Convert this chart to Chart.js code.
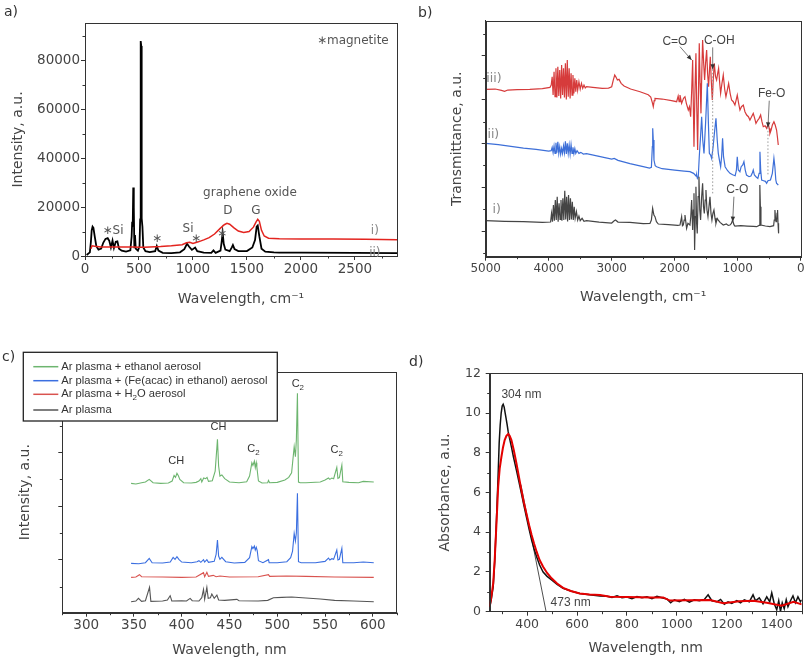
<!DOCTYPE html>
<html>
<head>
<meta charset="utf-8">
<script src="https://cdn.jsdelivr.net/npm/chart.js@4.4.1/dist/chart.umd.min.js"></script>
<style>
  body { margin: 0; background: #fff; }
  #fig { position: relative; width: 808px; height: 660px; overflow: hidden; background: #fff; }
  canvas { position: absolute; }
  .tag { position: absolute; font: 14px "DejaVu Sans", sans-serif; color: #333; line-height: 16px; }
</style>
</head>
<body>
<div id="fig">
  <canvas id="chartA" width="404" height="310" style="left:0;top:0"></canvas>
  <canvas id="chartB" width="404" height="310" style="left:404px;top:0"></canvas>
  <canvas id="chartC" width="404" height="350" style="left:0;top:310px"></canvas>
  <canvas id="chartD" width="404" height="350" style="left:404px;top:310px"></canvas>
  <div class="tag" style="left:4px;top:3px">a)</div>
  <div class="tag" style="left:418px;top:4px">b)</div>
  <div class="tag" style="left:2px;top:348px">c)</div>
  <div class="tag" style="left:409px;top:353px">d)</div>
</div>
<script>
'use strict'

// ---- a) Raman, [shift cm-1, intensity] ----
const ramanGO = [[55, 3000], [65, 4200], [90, 4000], [150, 3700], [300, 3700], [450, 3700], [500, 3600],
  [550, 3600], [700, 3900], [800, 4200], [900, 4600], [940, 5400], [970, 5600], [1000, 5100], [1050, 5800],
  [1100, 6600], [1150, 7500], [1200, 9000], [1250, 11200], [1290, 12800], [1315, 13400], [1340, 13000],
  [1380, 11500], [1420, 10200], [1470, 9600], [1520, 10000], [1560, 11800], [1585, 14000], [1600, 15000],
  [1615, 14200], [1635, 10500], [1660, 8200], [1700, 7300], [1800, 7100], [2000, 7000], [2300, 7000],
  [2600, 6900], [2890, 6700]];
const ramanGOFe = [[15, 400], [45, 1500], [55, 6000], [62, 10500], [70, 12000], [78, 11500], [90, 8000],
  [105, 4000], [125, 2600], [150, 3000], [170, 5500], [190, 7000], [210, 7300], [225, 6200], [240, 3500],
  [255, 6300], [268, 3300], [285, 5800], [300, 6000], [315, 3000], [340, 2200], [380, 1800], [420, 2300],
  [432, 8000], [437, 14000], [442, 12000], [447, 28000], [452, 20000], [457, 3500], [463, 8600], [470, 3000],
  [490, 2200], [505, 4000], [511, 15000], [516, 88000], [521, 86000], [525, 15400], [532, 12000], [540, 3500],
  [560, 2000], [600, 1600], [650, 2000], [665, 4100], [680, 2200], [720, 1300], [800, 1200], [880, 1500],
  [920, 2800], [945, 5000], [965, 3800], [990, 2500], [1020, 3500], [1040, 2000], [1100, 1400], [1170, 1300],
  [1190, 2300], [1210, 1300], [1255, 2200], [1265, 5500], [1275, 9500], [1285, 5000], [1300, 2600],
  [1340, 2000], [1360, 3500], [1370, 4500], [1385, 2800], [1420, 2000], [1500, 2000], [1550, 3500],
  [1575, 6500], [1590, 12000], [1600, 12500], [1615, 8000], [1635, 3000], [1670, 1800], [1750, 1500],
  [1800, 1400], [2000, 1400], [2500, 1300], [2890, 1200]];
const ramanXTicks = [0, 250, 500, 750, 1000, 1250, 1500, 1750, 2000, 2250, 2500, 2750];
const ramanXLabels = [0, 500, 1000, 1500, 2000, 2500];
const ramanYTicks = [0, 10000, 20000, 30000, 40000, 50000, 60000, 70000, 80000, 90000];
const ramanYLabels = [0, 20000, 40000, 60000, 80000];

// ---- b) FTIR, [wavenumber, transmittance a.u.] ----
const ftirIII = [[5000, 50.2], [4850, 50.3], [4750, 49.9], [4700, 49.6], [4650, 50], [4500, 50.1], [4300, 50.2],
  [4100, 50.4], [3980, 50.8], [3960, 51.5], [3945, 54], [3930, 48.5], [3915, 55.5], [3900, 48], [3885, 56.5],
  [3870, 47.8], [3855, 57], [3840, 48.2], [3825, 56], [3810, 47.5], [3795, 57.5], [3780, 48.5], [3765, 56.5],
  [3750, 47.8], [3735, 58], [3720, 47.2], [3705, 59], [3690, 48], [3675, 56.5], [3660, 47.5], [3645, 55],
  [3630, 48.5], [3615, 54.5], [3600, 49], [3585, 53.5], [3570, 49.5], [3555, 53], [3540, 50], [3520, 52.5],
  [3500, 50.3], [3480, 52], [3460, 50.5], [3440, 51.5], [3420, 50.6], [3400, 51], [3300, 50.8], [3150, 50.5],
  [3050, 50.6], [3000, 51], [2975, 53], [2952, 54.5], [2930, 53.8], [2910, 53], [2884, 53.2], [2850, 52],
  [2804, 51.2], [2700, 50.3], [2550, 49.5], [2420, 48.6], [2380, 47.9], [2355, 46.2], [2340, 45], [2325, 46.8],
  [2313, 47.5], [2200, 47.3], [2050, 46.8], [1969, 46.5], [1945, 48.2], [1930, 46.5], [1916, 48.5], [1890, 46],
  [1860, 47.5], [1837, 48], [1815, 46], [1784, 44], [1765, 45], [1747, 42], [1730, 50], [1715, 59], [1694, 33],
  [1678, 50], [1663, 61], [1650, 45], [1636, 32], [1622, 50], [1610, 64], [1597, 52], [1583, 43], [1570, 55],
  [1557, 65], [1540, 58], [1525, 53], [1510, 58], [1493, 62], [1478, 55], [1462, 51], [1448, 56], [1435, 60],
  [1420, 53], [1403, 47], [1388, 53], [1372, 58], [1352, 54], [1335, 53], [1318, 55], [1303, 56.5], [1285, 52],
  [1271, 49], [1250, 52], [1229, 54.5], [1205, 50], [1187, 48], [1165, 50], [1144, 52], [1120, 49], [1097, 47],
  [1070, 46.5], [1044, 45.5], [1025, 47], [1007, 48.5], [985, 46], [964, 44], [940, 45], [911, 45.5],
  [885, 43.5], [858, 42.5], [830, 42], [806, 41], [780, 42], [753, 43], [730, 41.5], [710, 40], [680, 41],
  [660, 41.5], [636, 42.5], [615, 40.5], [594, 39], [565, 39.3], [541, 38.5], [528, 39.2], [515, 40],
  [500, 38.5], [488, 37], [470, 38], [450, 39.5], [425, 40.5], [405, 39.5], [383, 38], [370, 36], [356, 33.5]];
const ftirII = [[5000, 34], [4800, 33.6], [4600, 33.1], [4400, 32.6], [4200, 32.2], [4000, 31.7], [3960, 31.8],
  [3945, 32.8], [3930, 31.2], [3915, 33.2], [3900, 31], [3885, 34.2], [3870, 31.2], [3855, 34.5], [3840, 31],
  [3825, 33], [3810, 30.8], [3795, 32.5], [3780, 31], [3765, 33.2], [3750, 31.2], [3735, 34.6], [3720, 30.8],
  [3705, 34], [3690, 31], [3675, 33.5], [3660, 30.8], [3645, 33.6], [3630, 31], [3615, 32.8], [3600, 30.9],
  [3585, 32.4], [3570, 31], [3550, 31.8], [3520, 31], [3490, 31.3], [3450, 30.8], [3400, 30.9], [3200, 30.1],
  [3000, 29.3], [2960, 29.5], [2900, 28.9], [2710, 27.9], [2500, 27], [2400, 26.6], [2370, 26.8], [2355, 33],
  [2349, 38.5], [2340, 35], [2329, 29], [2310, 27.3], [2287, 27], [2200, 26.4], [2000, 26], [1850, 25.7],
  [1758, 25.5], [1700, 25], [1660, 24.2], [1652, 24.5], [1640, 23.5], [1626, 24], [1610, 30], [1590, 36],
  [1572, 42], [1555, 35], [1535, 31], [1510, 40], [1482, 52], [1465, 40], [1450, 31], [1430, 30.5],
  [1413, 29.5], [1390, 33], [1370, 37], [1345, 41.5], [1325, 35], [1308, 31], [1290, 29], [1271, 27],
  [1255, 30], [1240, 35.5], [1225, 30], [1200, 27], [1160, 25.8], [1122, 25], [1080, 24.6], [1040, 24.3],
  [1020, 26], [1007, 30], [990, 26], [965, 25.5], [945, 27], [920, 27.5], [901, 28.5], [880, 26], [860, 24.5],
  [820, 24], [790, 24.2], [770, 25], [753, 26], [735, 24.5], [710, 24], [680, 23.5], [660, 25], [647, 31.5],
  [635, 26], [620, 23], [590, 22.8], [560, 22.6], [541, 22], [520, 22.8], [480, 23], [450, 25], [425, 29.5],
  [410, 27], [395, 23], [383, 22], [370, 21.8], [356, 21.5]];
const ftirI = [[5000, 10.8], [4700, 10.6], [4400, 10.5], [4100, 10.3], [3970, 10.4], [3955, 13], [3940, 10.5],
  [3925, 15.5], [3910, 10.8], [3895, 17], [3880, 11], [3865, 18], [3850, 10.5], [3835, 16], [3820, 11.2],
  [3805, 17], [3790, 10.8], [3775, 17.5], [3760, 11], [3745, 19.8], [3730, 11.2], [3715, 18], [3700, 10.6],
  [3685, 18.5], [3670, 11], [3655, 17.5], [3640, 11.2], [3625, 16.5], [3610, 11], [3595, 15], [3580, 11.5],
  [3560, 13.5], [3540, 11], [3520, 12.2], [3500, 10.8], [3470, 11.5], [3440, 10.6], [3400, 10.8], [3200, 10.4],
  [3000, 10.1], [2960, 10.8], [2940, 11], [2900, 10.4], [2710, 10.3], [2500, 9.9], [2393, 10], [2370, 11],
  [2350, 14.5], [2330, 12.5], [2313, 12], [2290, 10.5], [2260, 9.8], [2100, 9.6], [1950, 9.4], [1916, 9.5],
  [1890, 12], [1877, 9.3], [1864, 9.5], [1850, 11], [1837, 12.5], [1811, 8.5], [1790, 10], [1758, 9.5],
  [1745, 12], [1731, 17], [1715, 8], [1704, 14], [1694, 19], [1684, 2], [1673, 12], [1663, 21], [1652, 10],
  [1642, 7], [1628, 18], [1615, 24], [1602, 14], [1589, 11], [1572, 18], [1557, 22], [1543, 15], [1530, 13],
  [1516, 17], [1504, 20], [1488, 14], [1472, 12], [1456, 15], [1440, 18], [1424, 13], [1409, 11], [1393, 13],
  [1377, 14], [1360, 11.5], [1345, 10], [1325, 11.5], [1308, 11], [1280, 10.3], [1229, 9.5], [1180, 9.8],
  [1150, 9.4], [1123, 9.5], [1100, 10], [1081, 11], [1060, 9.6], [1044, 9.2], [950, 9.3], [850, 9.2],
  [750, 9.1], [700, 9], [660, 9.4], [650, 18], [647, 21.5], [640, 15], [631, 9.5], [560, 9.2], [488, 9],
  [430, 9.3], [420, 11], [409, 14], [400, 11.5], [392, 10.5], [383, 11], [375, 13], [367, 14], [360, 10],
  [351, 7]];
const ftirXTicks = [0, 500, 1000, 1500, 2000, 2500, 3000, 3500, 4000, 4500, 5000];
const ftirXLabels = [0, 1000, 2000, 3000, 4000, 5000];
const ftirYTicks = [1.1, 7.67, 14.24, 20.81, 27.38, 33.95, 40.52, 47.09, 53.66, 60.23, 66.8];
const ftirYMajor = [7.67, 20.81, 33.95, 47.09, 60.23];

// ---- c) OES, [wavelength nm, intensity a.u.] ----
const oesEthanol = [[347, 38.8], [352, 38.6], [358, 39], [362, 39.2], [366, 40], [370, 39], [378, 38.8],
  [386, 38.9], [390, 39.5], [392, 41.2], [393.5, 40.6], [395, 41.8], [396.5, 41.1], [398, 40], [402, 39],
  [410, 38.9], [415, 39.1], [418, 39.5], [420, 40.2], [421, 39.2], [423, 40.4], [425, 40.2], [426.5, 40.6],
  [428, 39.4], [432, 39.6], [435, 42.5], [437.4, 52], [438.6, 44], [440, 41], [442, 41.3], [445, 40.2],
  [450, 39.2], [460, 39], [468, 39.3], [471, 41], [473.4, 45], [474.5, 44.2], [476, 45.5], [477, 43.5],
  [478, 45], [478.6, 43.8], [480.3, 39.5], [484, 38.9], [490, 39], [490.8, 39.7], [492, 39], [500, 39.1],
  [508, 39.8], [512, 40.6], [515, 42], [517.7, 49.8], [519, 46.8], [520, 52], [521.1, 65.8], [522.2, 39.2],
  [524, 39], [530, 39], [545, 39.2], [550, 39.8], [553.6, 40.4], [555, 40], [557.1, 40.4], [559, 40.2],
  [562.3, 43.6], [563.5, 40.3], [565, 40.5], [567.6, 44.3], [568.6, 39.3], [575, 39.1], [585, 39],
  [590, 39.4], [601, 39.2]];
const oesFeAcac = [[347, 14.8], [355, 14.7], [362, 15], [366, 16.3], [369, 15], [380, 14.9], [388, 15.2],
  [391, 16.6], [393, 16], [395, 16.8], [397, 16], [400, 15.2], [410, 15], [416, 15.3], [418, 15.6], [420, 15.1],
  [422.8, 15.9], [424, 15.2], [426.3, 15.9], [428, 15.1], [434, 15.4], [436, 17.5], [437.4, 21.8], [438.6, 17],
  [440, 16], [442, 16.6], [446, 15.3], [455, 14.9], [466, 15.1], [471, 16.5], [473.4, 19.8], [474.5, 19.2],
  [476, 20], [477, 18.8], [478, 19.6], [479, 18.6], [480.3, 15.6], [485, 15], [490.8, 15.9], [491.5, 15],
  [500, 15], [510, 15.3], [514, 16.5], [516, 18.5], [517.7, 23.8], [519, 21.5], [520, 24], [521.1, 35.8],
  [522.2, 15.3], [525, 15], [540, 15], [550, 15.4], [553.6, 16.4], [555, 15.8], [557.1, 16.2], [559, 16],
  [562.3, 18.8], [563.5, 15.8], [565, 16], [567.6, 19.3], [568.6, 15], [580, 15], [590, 15.2], [601, 15]];
const oesWater = [[347, 10.6], [352, 10.7], [355.8, 11.4], [358, 10.8], [380, 10.7], [400, 10.6], [415, 10.7],
  [422.8, 12], [424, 10.8], [426.3, 12.1], [428, 10.9], [433, 11.2], [436, 10.8], [440, 11], [450, 10.7],
  [480, 10.8], [490.8, 11.4], [492, 10.9], [510, 11], [530, 10.9], [560, 10.7], [601, 10.6]];
const oesArgon = [[347, 3.3], [352, 3.5], [354.7, 4.3], [358, 3.4], [362, 3.6], [366.3, 7.6], [367.7, 3.4],
  [380, 3.5], [385, 3.8], [387.9, 5.1], [389.6, 3.5], [400, 3.6], [405, 3.5], [408.8, 4.3], [411, 3.6],
  [418, 3.5], [421, 4.5], [422.8, 7], [424, 4], [426.3, 7.6], [427.7, 4.3], [430, 4.5], [431.5, 5.6], [434, 4.3],
  [436.8, 5.3], [438.6, 3.8], [445, 3.7], [457.7, 4], [460, 3.6], [480, 3.5], [490, 3.7], [496, 4.5], [505, 4.6],
  [515, 4.7], [530, 4.4], [545, 4.1], [560, 3.7], [580, 3.5], [601, 3.3]];
const oesXTicks = [275, 300, 325, 350, 375, 400, 425, 450, 475, 500, 525, 550, 575, 600, 625];
const oesXLabels = [300, 350, 400, 450, 500, 550, 600];
const oesYTicks = [7.8, 16, 24, 32, 40, 48, 56, 64, 72];
const oesYMajor = [16, 32, 48, 64];
const oesNames = ['Ar plasma + ethanol aerosol', 'Ar plasma + (Fe(acac) in ethanol) aerosol',
  'Ar plasma + H|2|O aerosol', 'Ar plasma'];

// ---- d) UV-Vis, [wavelength nm, absorbance] ----
const uvRaw = [[250, 0.25], [256, 0.6], [264, 1.26], [270, 2.5], [277, 4.6], [283, 6.6], [288, 8.5], [292, 9.4],
  [296, 10.0], [300, 10.35], [304, 10.44], [308, 10.3], [312, 10], [316, 9.7], [320, 9.4], [324, 9.06],
  [330, 8.7], [337, 8.3], [345, 7.8], [357, 7.13], [367, 6.55], [377, 5.96], [387, 5.35], [397, 4.78],
  [408, 4.15], [418, 3.61], [428, 3.15], [438, 2.77], [450, 2.35], [464, 2.0], [480, 1.78], [498, 1.6],
  [520, 1.38], [544, 1.18], [575, 1.04], [611, 0.92], [650, 0.85], [692, 0.79], [720, 0.78], [740, 0.72],
  [760, 0.8], [780, 0.7], [800, 0.74], [820, 0.66], [840, 0.76], [860, 0.7], [880, 0.75], [900, 0.66],
  [920, 0.78], [940, 0.7], [960, 0.64], [975, 0.45], [990, 0.6], [1010, 0.5], [1030, 0.62], [1050, 0.48],
  [1070, 0.6], [1090, 0.55], [1110, 0.62], [1125, 0.85], [1140, 0.55], [1160, 0.5], [1175, 0.62], [1190, 0.38],
  [1205, 0.5], [1220, 0.42], [1240, 0.56], [1255, 0.45], [1270, 0.6], [1290, 0.5], [1305, 0.85], [1315, 0.55],
  [1330, 0.7], [1345, 0.4], [1360, 0.75], [1372, 0.5], [1380, 0.95], [1390, 0.4], [1400, 0.1], [1408, 0.55],
  [1415, 0.02], [1422, 0.45], [1430, 0.15], [1438, 0.6], [1445, 0.25], [1455, 0.55], [1465, 0.8], [1475, 0.45],
  [1485, 0.75], [1495, 0.5], [1500, 0.6]];
const uvSmooth = [[250, 0.25], [256, 0.7], [264, 1.43], [270, 2.6], [277, 4.4], [284, 6.3], [290, 7.2],
  [297, 7.8], [303, 8.25], [310, 8.64], [317, 8.85], [324, 8.94], [330, 8.85], [337, 8.64], [347, 8.1],
  [357, 7.47], [367, 6.8], [377, 6.12], [387, 5.5], [397, 4.95], [408, 4.35], [418, 3.86], [428, 3.42],
  [438, 3.02], [450, 2.6], [464, 2.26], [480, 1.95], [498, 1.68], [520, 1.42], [544, 1.2], [575, 1.04],
  [611, 0.92], [650, 0.86], [692, 0.84], [732, 0.75], [800, 0.74], [900, 0.72], [945, 0.72], [972, 0.56],
  [1050, 0.58], [1133, 0.59], [1186, 0.43], [1250, 0.52], [1306, 0.55], [1360, 0.45], [1420, 0.3],
  [1467, 0.5], [1500, 0.37]];
const uvTangent = [[375, 6.4], [476, 0]];
const uvXTicks = [300, 400, 500, 600, 700, 800, 900, 1000, 1100, 1200, 1300, 1400, 1500];
const uvXLabels = [400, 600, 800, 1000, 1200, 1400];
const uvYTicks = [0, 1, 2, 3, 4, 5, 6, 7, 8, 9, 10, 11, 12];
const uvYLabels = [0, 2, 4, 6, 8, 10, 12];

const DEJAVU = '"DejaVu Sans"';
const LIB = '"Liberation Sans"';

function pts(list) {
  return list.map(p => ({ x: p[0], y: p[1] }));
}

function line(data, color, width) {
  return { data: pts(data), showLine: true, borderColor: color, borderWidth: width,
    pointRadius: 0, tension: 0, fill: false };
}

// text with an optional subscript: 'H|2|O' -> H, sub 2, O
function richText(ctx, str, x, y, size, family, align) {
  const parts = str.split('|');
  const fonts = parts.map((p, i) => (i % 2 ? size * 0.72 : size) + 'px ' + family);
  const widths = parts.map((p, i) => { ctx.font = fonts[i]; return ctx.measureText(p).width; });
  const total = widths.reduce((a, b) => a + b, 0);
  let cx = align === 'left' ? x : x - total / 2;
  ctx.textAlign = 'left';
  ctx.textBaseline = 'middle';
  parts.forEach((p, i) => {
    ctx.font = fonts[i];
    ctx.fillText(p, cx, i % 2 ? y + size * 0.32 : y);
    cx += widths[i];
  });
}

function arrow(ctx, x1, y1, x2, y2) {
  ctx.beginPath();
  ctx.moveTo(x1, y1);
  ctx.lineTo(x2, y2);
  ctx.stroke();
  const ang = Math.atan2(y2 - y1, x2 - x1), L = 5, W = 2.2;
  ctx.beginPath();
  ctx.moveTo(x2, y2);
  ctx.lineTo(x2 - L * Math.cos(ang) + W * Math.sin(ang), y2 - L * Math.sin(ang) - W * Math.cos(ang));
  ctx.lineTo(x2 - L * Math.cos(ang) - W * Math.sin(ang), y2 - L * Math.sin(ang) + W * Math.cos(ang));
  ctx.closePath();
  ctx.fill();
}

// frame round the plot area, short minor ticks, labels, arrows and legend
const figurePlugin = {
  id: 'figure',
  afterDraw(chart, args, opts) {
    const { ctx, chartArea: a } = chart;
    const sx = chart.scales.x, sy = chart.scales.y;
    const px = v => sx.getPixelForValue(v), py = v => sy.getPixelForValue(v);
    ctx.save();
    ctx.strokeStyle = '#333';
    ctx.lineWidth = 1;
    ctx.strokeRect(Math.round(a.left) + 0.5, Math.round(a.top) + 0.5,
      Math.round(a.right - a.left), Math.round(a.bottom - a.top));

    // minor ticks, shorter than the library's major ones
    ctx.beginPath();
    (opts.minorX || []).forEach(v => {
      const x = Math.round(px(v)) + 0.5;
      ctx.moveTo(x, a.bottom);
      ctx.lineTo(x, a.bottom + 2.5);
    });
    (opts.minorY || []).forEach(v => {
      const y = Math.round(py(v)) + 0.5;
      ctx.moveTo(a.left, y);
      ctx.lineTo(a.left - 2.5, y);
    });
    ctx.stroke();

    (opts.dotted || []).forEach(d => {
      ctx.strokeStyle = '#999';
      ctx.setLineDash([1.5, 2]);
      ctx.beginPath();
      ctx.moveTo(px(d[0][0]), py(d[0][1]));
      ctx.lineTo(px(d[1][0]), py(d[1][1]));
      ctx.stroke();
      ctx.setLineDash([]);
    });
    (opts.arrows || []).forEach(d => {
      ctx.strokeStyle = '#555';
      ctx.fillStyle = '#333';
      ctx.lineWidth = 0.8;
      arrow(ctx, px(d[0][0]), py(d[0][1]), px(d[1][0]), py(d[1][1]));
    });
    (opts.notes || []).forEach(n => {
      ctx.fillStyle = n.color || opts.color;
      richText(ctx, n.t, px(n.x), py(n.y), n.size || opts.size, n.family || opts.family, n.align);
    });

    if (opts.legend) {
      const L = opts.legend;
      ctx.fillStyle = '#fff';
      ctx.fillRect(L.left, L.top, L.width, L.height);
      ctx.strokeStyle = '#222';
      ctx.lineWidth = 1.3;
      ctx.strokeRect(L.left, L.top, L.width, L.height);
      L.items.forEach((it, i) => {
        const y = L.rows[i];
        ctx.strokeStyle = it.color;
        ctx.lineWidth = 1.5;
        ctx.beginPath();
        ctx.moveTo(L.left + 10, y);
        ctx.lineTo(L.left + 35, y);
        ctx.stroke();
        ctx.fillStyle = '#333';
        richText(ctx, it.text, L.left + 38, y, 11.2, LIB, 'left');
      });
    }
    ctx.restore();
  }
};

function axis(o) {
  const major = o.major || o.labels;
  return {
    type: 'linear',
    position: o.pos,
    min: o.min,
    max: o.max,
    reverse: !!o.reverse,
    afterBuildTicks: s => { s.ticks = o.ticks.map(v => ({ value: v })); },
    afterFit: s => { if (o.pos === 'bottom') s.height = o.size; else s.width = o.size; },
    border: { color: '#333', width: 1 },
    grid: {
      drawOnChartArea: false, tickLength: o.tickLen || 4,
      tickColor: c => (c.tick && major.includes(c.tick.value)) ? '#333' : 'rgba(0,0,0,0)'
    },
    ticks: {
      autoSkip: false, maxRotation: 0, padding: o.pad, color: '#444',
      font: { family: DEJAVU, size: o.font },
      callback: v => o.labels.includes(v) ? String(v) : ''
    },
    title: {
      display: true, text: o.title, color: '#444',
      font: { family: DEJAVU, size: 14 }, padding: o.titlePad
    }
  };
}

function makeChart(id, datasets, x, y, padding, figure) {
  const major = o => o.major || o.labels;
  figure.minorX = x.ticks.filter(v => !major(x).includes(v));
  figure.minorY = y.ticks.filter(v => !major(y).includes(v));
  return new Chart(document.getElementById(id), {
    type: 'scatter',
    data: { datasets: datasets },
    options: {
      responsive: false,
      animation: false,
      events: [],
      layout: { padding: padding },
      scales: { x: axis(x), y: axis(y) },
      plugins: { legend: { display: false }, tooltip: { enabled: false }, figure: figure }
    },
    plugins: [figurePlugin]
  });
}

// a)
makeChart('chartA',
  [line(ramanGO, '#e3241f', 1.5), line(ramanGOFe, '#000', 1.8)],
  { pos: 'bottom', min: 0, max: 2890, ticks: ramanXTicks, labels: ramanXLabels, size: 54, pad: 1,
    font: 13.5, tickLen: 4, title: 'Wavelength, cm⁻¹', titlePad: { bottom: 2.6 } },
  { pos: 'left', min: 0, max: 95400, ticks: ramanYTicks, labels: ramanYLabels, size: 85, pad: 1,
    font: 13.5, tickLen: 4, title: 'Intensity, a.u.', titlePad: { top: 9.9 } },
  { top: 23, right: 7, left: 0, bottom: 0 },
  { color: '#555', size: 12, family: DEJAVU, notes: [
    { t: '∗magnetite', x: 2148, y: 88200, align: 'left' },
    { t: 'graphene oxide', x: 1528, y: 25800 },
    { t: 'D', x: 1324, y: 18400 }, { t: 'G', x: 1583, y: 18400 },
    { t: '∗Si', x: 259, y: 10200 }, { t: '∗', x: 667, y: 7000 }, { t: 'Si', x: 954, y: 11100 },
    { t: '∗', x: 1028, y: 7000 }, { t: '∗', x: 1269, y: 9000 },
    { t: 'i)', x: 2685, y: 10200, color: '#888' }, { t: 'ii)', x: 2685, y: 1200, color: '#888' }
  ] });

// b)
makeChart('chartB',
  [line(ftirI, '#454545', 1.2), line(ftirII, '#3d6fd8', 1.2), line(ftirIII, '#d63b3b', 1.2)],
  { pos: 'bottom', min: 0, max: 5000, reverse: true, ticks: ftirXTicks, labels: ftirXLabels, size: 53.3,
    pad: 1, font: 12, title: 'Wavelength, cm⁻¹', titlePad: { bottom: 4.6 } },
  { pos: 'left', min: 0, max: 70.8, ticks: ftirYTicks, labels: [], major: ftirYMajor, size: 81.7, pad: 2,
    font: 12, title: 'Transmittance, a.u.', titlePad: { top: 44.6 } },
  { top: 20.7, right: 7.3, left: 0, bottom: 0 },
  { color: '#444', size: 12, family: LIB,
    notes: [
      { t: 'C=O', x: 1996, y: 64.5 }, { t: 'C-OH', x: 1293, y: 64.8 },
      { t: 'Fe-O', x: 461, y: 48.8 }, { t: 'C-O', x: 1007, y: 20 },
      { t: 'iii)', x: 4868, y: 53.5, color: '#888', family: DEJAVU, size: 12.5 },
      { t: 'ii)', x: 4879, y: 36.6, color: '#888', family: DEJAVU, size: 12.5 },
      { t: 'i)', x: 4825, y: 14.2, color: '#888', family: DEJAVU, size: 12.5 }
    ],
    arrows: [[[1916, 63], [1731, 59]], [[1397, 62.8], [1397, 56.2]], [[499, 46.8], [520, 38.8]],
      [[1060, 18], [1080, 10.5]]],
    dotted: [[[1397, 56.2], [1397, 19]], [[520, 38.8], [520, 24.5]]] });

// c)
const oesColors = ['#6db56f', '#3b6fe0', '#d9534f', '#555'];
makeChart('chartC',
  [line(oesEthanol, oesColors[0], 1.1), line(oesFeAcac, oesColors[1], 1.1),
    line(oesWater, oesColors[2], 1.1), line(oesArgon, oesColors[3], 1.1)],
  { pos: 'bottom', min: 275, max: 625, ticks: oesXTicks, labels: oesXLabels, size: 47.3, pad: 1,
    font: 13.5, title: 'Wavelength, nm', titlePad: { bottom: 1.6 } },
  { pos: 'left', min: 0, max: 72.3, ticks: oesYTicks, labels: [], major: oesYMajor, size: 62.3, pad: 2,
    font: 12, title: 'Intensity, a.u.', titlePad: { top: 16.6 } },
  { top: 61.7, right: 7.3, left: 0, bottom: 0 },
  { color: '#333', size: 11, family: LIB,
    notes: [
      { t: 'CH', x: 394.2, y: 45.6 }, { t: 'CH', x: 438.4, y: 55.6 },
      { t: 'C|2', x: 475.1, y: 49 }, { t: 'C|2', x: 521.5, y: 68.6 }, { t: 'C|2', x: 562.3, y: 48.8 }
    ],
    legend: { left: 23.3, top: 42.3, width: 254, height: 68.7, rows: [56.7, 70.7, 84.3, 100],
      items: oesNames.map((n, i) => ({ text: n, color: oesColors[i] })) } });

// d)
makeChart('chartD',
  [line(uvSmooth, '#e40000', 2), line(uvRaw, '#111', 1.5), line(uvTangent, '#222', 0.8)],
  { pos: 'bottom', min: 250, max: 1500, ticks: uvXTicks, labels: uvXLabels, size: 48.3, pad: 2,
    font: 12.5, title: 'Wavelength, nm', titlePad: { bottom: 3.6 } },
  { pos: 'left', min: 0, max: 12, ticks: uvYTicks, labels: uvYLabels, size: 85.7, pad: 4.7, font: 12.5,
    title: 'Absorbance, a.u.', titlePad: { top: 33.3 } },
  { top: 63.3, right: 6.3, left: 0, bottom: 0 },
  { color: '#444', size: 12, family: LIB,
    notes: [{ t: '304 nm', x: 297, y: 10.9, align: 'left' }, { t: '473 nm', x: 494, y: 0.45, align: 'left' }] });
</script>
</body>
</html>
